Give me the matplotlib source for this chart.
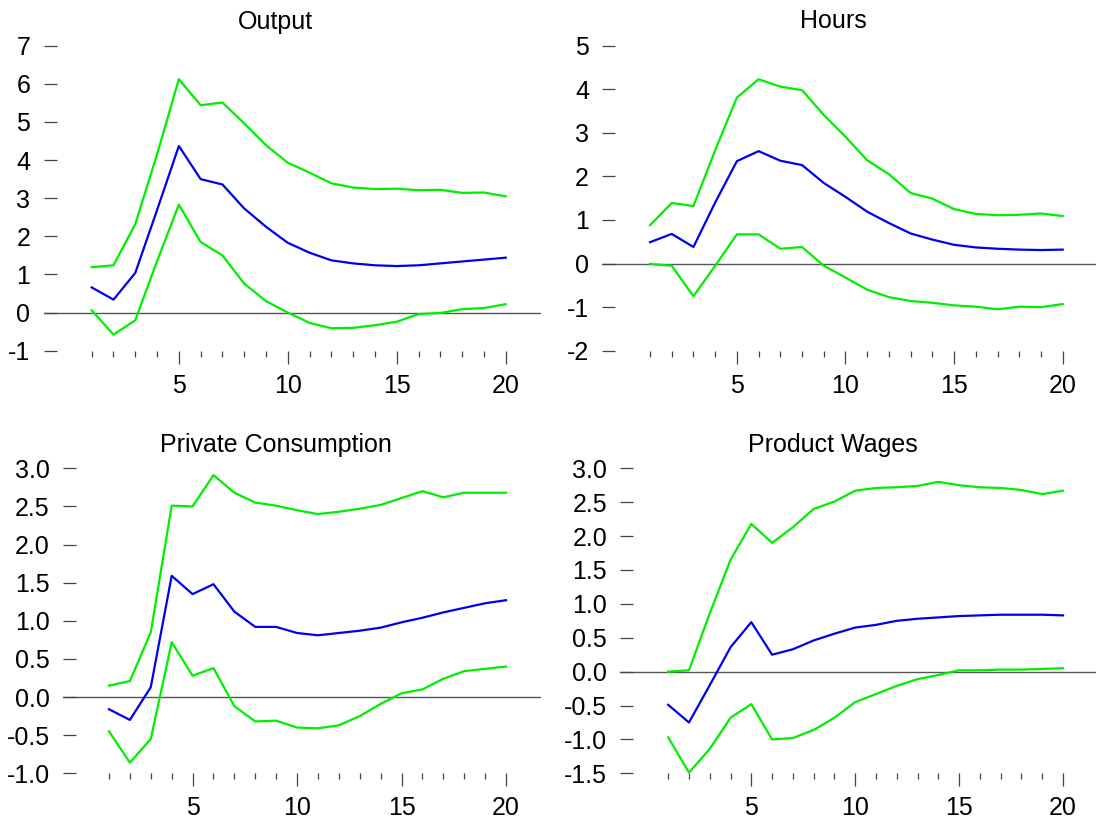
import matplotlib
matplotlib.use("Agg")
import matplotlib.pyplot as plt
from matplotlib.ticker import FixedLocator, FormatStrFormatter

plt.rcParams['font.family'] = ['Liberation Sans', 'DejaVu Sans']
plt.rcParams['axes.unicode_minus'] = False

steps = list(range(1, 21))

titles = ["Output", "Hours", "Private Consumption", "Product Wages"]

output_mid = [0.66, 0.34, 1.04, 2.69, 4.37, 3.50, 3.36, 2.73, 2.25, 1.83,
              1.57, 1.37, 1.29, 1.24, 1.22, 1.24, 1.29, 1.34, 1.39, 1.44]
output_up = [1.19, 1.24, 2.32, 4.15, 6.12, 5.44, 5.51, 4.96, 4.39, 3.93,
             3.67, 3.39, 3.28, 3.24, 3.25, 3.21, 3.22, 3.14, 3.15, 3.05]
output_lo = [0.06, -0.58, -0.20, 1.35, 2.83, 1.85, 1.50, 0.76, 0.30, 0.00,
             -0.27, -0.41, -0.40, -0.33, -0.24, -0.04, -0.01, 0.09, 0.12, 0.22]

hours_mid = [0.49, 0.68, 0.38, 1.40, 2.35, 2.58, 2.36, 2.26, 1.85, 1.53,
             1.19, 0.93, 0.69, 0.55, 0.43, 0.37, 0.34, 0.32, 0.31, 0.32]
hours_up = [0.88, 1.39, 1.32, 2.60, 3.81, 4.23, 4.06, 3.98, 3.41, 2.91,
            2.37, 2.05, 1.62, 1.49, 1.25, 1.14, 1.11, 1.12, 1.15, 1.09]
hours_lo = [-0.01, -0.05, -0.75, -0.05, 0.67, 0.67, 0.34, 0.38, -0.05, -0.32,
            -0.60, -0.77, -0.86, -0.90, -0.96, -0.99, -1.05, -0.99, -1.00, -0.93]

cons_mid = [-0.16, -0.30, 0.13, 1.59, 1.35, 1.48, 1.12, 0.92, 0.92, 0.84,
            0.81, 0.84, 0.87, 0.91, 0.98, 1.04, 1.11, 1.17, 1.23, 1.27]
cons_up = [0.15, 0.21, 0.85, 2.51, 2.50, 2.91, 2.68, 2.55, 2.51, 2.45,
           2.40, 2.43, 2.47, 2.52, 2.61, 2.70, 2.62, 2.68, 2.68, 2.68]
cons_lo = [-0.45, -0.86, -0.55, 0.72, 0.28, 0.38, -0.12, -0.32, -0.31, -0.40,
           -0.41, -0.37, -0.25, -0.09, 0.05, 0.10, 0.24, 0.34, 0.37, 0.40]

wage_mid = [-0.49, -0.75, -0.20, 0.36, 0.73, 0.25, 0.33, 0.46, 0.56, 0.65,
            0.69, 0.75, 0.78, 0.80, 0.82, 0.83, 0.84, 0.84, 0.84, 0.83]
wage_up = [0.00, 0.02, 0.86, 1.65, 2.18, 1.90, 2.13, 2.40, 2.51, 2.67,
           2.71, 2.72, 2.74, 2.80, 2.75, 2.72, 2.71, 2.68, 2.62, 2.67]
wage_lo = [-0.97, -1.49, -1.14, -0.68, -0.48, -1.00, -0.98, -0.86, -0.68, -0.45,
           -0.33, -0.21, -0.11, -0.05, 0.02, 0.02, 0.03, 0.03, 0.04, 0.05]

yticks_output = [-1, 0, 1, 2, 3, 4, 5, 6, 7]
yticks_hours = [-2, -1, 0, 1, 2, 3, 4, 5]
yticks_cons = [-1.0, -0.5, 0.0, 0.5, 1.0, 1.5, 2.0, 2.5, 3.0]
yticks_wage = [-1.5, -1.0, -0.5, 0.0, 0.5, 1.0, 1.5, 2.0, 2.5, 3.0]
xticks_major = [5, 10, 15, 20]

W, H = 1096, 821
fig = plt.figure(figsize=(W / 100, H / 100), dpi=100)

# pixel geometry: (left, right, top, bottom, x1px, x20px, title_x, title_baseline)
panels = [
    dict(geom=(43.5, 541, 45.7, 350.7, 91.7, 505.7, 275.8, 28.5),
         series=(output_mid, output_up, output_lo), yt=yticks_output, fmt='%d'),
    dict(geom=(602.2, 1096, 45.7, 350.7, 650.0, 1062.7, 833.0, 28.5),
         series=(hours_mid, hours_up, hours_lo), yt=yticks_hours, fmt='%d'),
    dict(geom=(62.9, 541, 468.3, 773.3, 109.0, 506.0, 275.8, 451.5),
         series=(cons_mid, cons_up, cons_lo), yt=yticks_cons, fmt='%.1f'),
    dict(geom=(620.4, 1096, 468.3, 773.3, 668.2, 1063.0, 833.3, 451.5),
         series=(wage_mid, wage_up, wage_lo), yt=yticks_wage, fmt='%.1f'),
]

for title, p in zip(titles, panels):
    left, right, top, bottom, x1, x20, tx, tb = p['geom']
    ax = fig.add_axes([left / W, 1 - bottom / H, (right - left) / W, (bottom - top) / H])
    ppu = (x20 - x1) / 19.0
    ax.set_xlim(1 - (x1 - left) / ppu, 20 + (right - x20) / ppu)
    yt = p['yt']
    ax.set_ylim(yt[0], yt[-1])
    mid, up, lo = p['series']
    ax.axhline(0, color='#555555', lw=1.0, zorder=1)
    ax.plot(steps, up, color='#00ee00', lw=1.6, zorder=2, clip_on=False)
    ax.plot(steps, lo, color='#00ee00', lw=1.6, zorder=2, clip_on=False)
    ax.plot(steps, mid, color='#0000ee', lw=1.6, zorder=3, clip_on=False)
    for s in ax.spines.values():
        s.set_visible(False)
    ax.set_yticks(yt)
    ax.yaxis.set_major_formatter(FormatStrFormatter(p['fmt']))
    ax.tick_params(axis='y', direction='in', length=9, width=0.9, color='#444444',
                   pad=9.5, labelsize=18, labelcolor='black')
    ax.set_xticks(xticks_major)
    ax.xaxis.set_minor_locator(FixedLocator(steps))
    ax.tick_params(axis='x', which='major', direction='out', length=9.5, width=0.9,
                   color='#444444', pad=7, labelsize=18, labelcolor='black')
    ax.tick_params(axis='x', which='minor', direction='out', length=4.3, width=0.9,
                   color='#444444')
    fig.text(tx / W, 1 - tb / H, title, ha='center', va='baseline', fontsize=18)

fig.savefig('out.png', dpi=100)
